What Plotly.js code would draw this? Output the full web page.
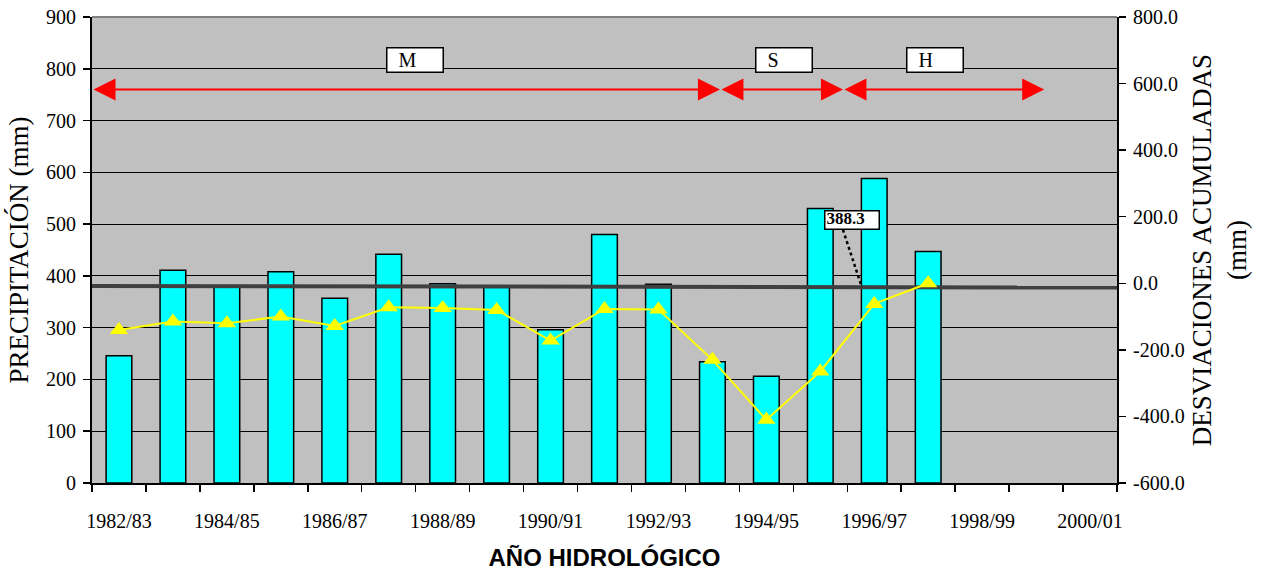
<!DOCTYPE html>
<html>
<head>
<meta charset="utf-8">
<script src="https://cdn.plot.ly/plotly-3.0.1.min.js"></script>
<style>
html,body{margin:0;padding:0;background:#ffffff;}
#chart{width:1266px;height:571px;}
</style>
</head>
<body>
<div id="chart"></div>
<script>
// ---------- data ----------
const categories = ['1982/83','1983/84','1984/85','1985/86','1986/87','1987/88','1988/89','1989/90','1990/91',
  '1991/92','1992/93','1993/94','1994/95','1995/96','1996/97','1997/98','1998/99','1999/00','2000/01'];
const precipitation = [246, 411, 379, 408, 357, 442, 385, 379, 296, 480, 384, 234, 206, 530, 588, 447];
const cumulativeDeviation = [-140, -115, -120, -100, -128, -72, -74, -80, -172, -77, -79, -230, -410, -265, -62, 0];
const meanLine = [380.5, 377.5];          // mean precipitation line, start / end of period
const meanLabel = '388.3';
const periodLabels = ['M', 'S', 'H'];
const periodStart = [-0.5, 11.14, 13.42];  // in category index units
const periodEnd = [11.14, 13.42, 17.15];
const leftTicks = [0, 100, 200, 300, 400, 500, 600, 700, 800, 900];
const rightTicks = [-600, -400, -200, 0, 200, 400, 600, 800];

// ---------- layout config ----------
const xRange = [-0.5, categories.length - 0.5];
const periodArrowY = 760;
const periodBoxX = [5.49, 12.33, 15.13];
const periodBoxY = 817;
const meanBox = {x: 13.587, y: 508};
const leaderStart = {x: 13.42, y: 489};
const leaderEndX = 13.77;

const idx = categories.map((c, i) => i);
const labelIdx = idx.filter(i => i % 2 === 0);

const serif = '"Liberation Serif", "Times New Roman", serif';
const tickFont = {family: serif, size: 20, color: '#000000'};

const traces = [
  {
    type: 'bar',
    x: precipitation.map((v, i) => idx[i]),
    y: precipitation,
    marker: {color: '#00FFFF', line: {color: '#000000', width: 1.5}},
    hoverinfo: 'skip'
  },
  {
    type: 'scatter',
    mode: 'lines',
    x: xRange,
    y: meanLine,
    line: {color: '#404040', width: 4},
    hoverinfo: 'skip'
  },
  {
    type: 'scatter',
    mode: 'lines+markers',
    x: cumulativeDeviation.map((v, i) => idx[i]),
    y: cumulativeDeviation,
    yaxis: 'y2',
    line: {color: '#FFFF00', width: 2},
    marker: {symbol: 'triangle-up', size: 16, color: '#FFFF00'},
    hoverinfo: 'skip'
  }
];

const annotations = [];
periodLabels.forEach((lab, i) => {
  annotations.push({
    x: periodEnd[i], y: periodArrowY, ax: periodStart[i], ay: periodArrowY,
    xref: 'x', yref: 'y', axref: 'x', ayref: 'y',
    text: '', showarrow: true, arrowside: 'end+start',
    arrowhead: 2, startarrowhead: 2, arrowsize: 2.2, startarrowsize: 2.2,
    arrowwidth: 2, arrowcolor: '#FF0000'
  });
  annotations.push({
    x: periodBoxX[i], y: periodBoxY, xref: 'x', yref: 'y',
    text: '\u00a0\u00a0' + lab, showarrow: false,
    bgcolor: '#FFFFFF', bordercolor: '#000000', borderwidth: 1.5, borderpad: 1,
    width: 53, height: 21, align: 'left', valign: 'middle',
    font: {family: serif, size: 20, color: '#000000'}
  });
});
annotations.push({
  x: meanBox.x, y: meanBox.y, xref: 'x', yref: 'y',
  text: '<b>' + meanLabel + '</b>', showarrow: false,
  bgcolor: '#FFFFFF', bordercolor: '#000000', borderwidth: 1.5, borderpad: 1,
  width: 51, height: 15, align: 'left', valign: 'bottom',
  font: {family: serif, size: 17, color: '#000000'}
});

const leaderEndY = meanLine[0] + (meanLine[1] - meanLine[0]) * (leaderEndX - xRange[0]) / (xRange[1] - xRange[0]);

const layout = {
  width: 1266, height: 571,
  margin: {l: 92, r: 149, t: 17, b: 88, pad: 0},
  paper_bgcolor: '#FFFFFF',
  plot_bgcolor: '#C0C0C0',
  showlegend: false,
  bargap: 0.524,
  font: {family: serif, size: 20, color: '#000000'},
  xaxis: {
    type: 'linear', range: xRange, fixedrange: true,
    tickmode: 'array', tickvals: labelIdx, ticktext: labelIdx.map(i => categories[i]),
    tickfont: tickFont,
    ticks: '', showgrid: false, zeroline: false,
    showline: true, linecolor: '#000000', linewidth: 2,
    ticklabelstandoff: 19,
    minor: {tickmode: 'linear', tick0: -0.5, dtick: 1, ticks: 'outside', ticklen: 7,
            tickwidth: 1.5, tickcolor: '#000000', showgrid: false},
    title: {text: 'AÑO HIDROLÓGICO', standoff: 18,
            font: {family: '"Liberation Sans", Arial, sans-serif', size: 24, weight: 700, color: '#000000'}}
  },
  yaxis: {
    range: [0, 900], fixedrange: true,
    tickmode: 'array', tickvals: leftTicks, tickfont: tickFont,
    ticks: 'outside', ticklen: 7, tickwidth: 1.5, tickcolor: '#000000',
    showgrid: true, gridcolor: '#000000', gridwidth: 1,
    zeroline: false, showline: true, linecolor: '#000000', linewidth: 2,
    ticklabelstandoff: 3,
    title: {text: 'PRECIPITACIÓN (mm)', standoff: 10, font: {family: serif, size: 27, color: '#000000'}}
  },
  yaxis2: {
    overlaying: 'y', side: 'right',
    range: [-600, 800], fixedrange: true,
    tickmode: 'array', tickvals: rightTicks, ticktext: rightTicks.map(v => v.toFixed(1)),
    tickfont: tickFont,
    ticks: 'outside', ticklen: 7, tickwidth: 1.5, tickcolor: '#000000',
    showgrid: false, zeroline: false,
    showline: true, linecolor: '#000000', linewidth: 2,
    ticklabelstandoff: 3,
    title: {text: 'DESVIACIONES ACUMULADAS<br>(mm)', standoff: 8, font: {family: serif, size: 27, color: '#000000'}}
  },
  shapes: [
    {type: 'line', xref: 'paper', yref: 'paper', x0: 0, x1: 1, y0: 1, y1: 1,
     line: {color: '#808080', width: 2}, layer: 'above'},
    {type: 'line', xref: 'x', yref: 'y', x0: leaderStart.x, y0: leaderStart.y, x1: leaderEndX, y1: leaderEndY,
     line: {color: '#000000', width: 2.5, dash: 'dot'}, layer: 'above'}
  ],
  annotations: annotations
};

Plotly.newPlot('chart', traces, layout, {displayModeBar: false, staticPlot: true});
</script>
</body>
</html>
